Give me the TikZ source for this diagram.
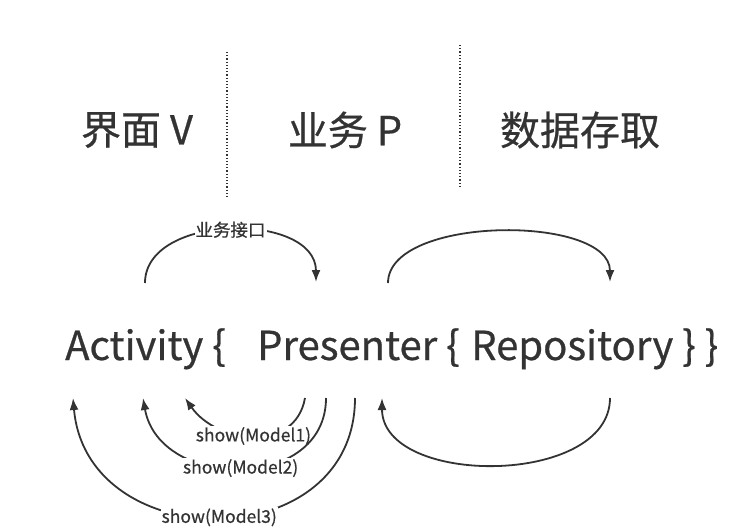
\documentclass[tikz,border=0pt]{standalone}
\usepackage{fontspec}
\setmainfont{Noto Sans CJK SC}
\newfontfamily\mfont{Noto Sans CJK SC}[RawFeature={embolden=0.6}]
\usetikzlibrary{arrows.meta}
\definecolor{ink}{HTML}{333333}
\tikzset{
  title/.style={font=\mfont\fontsize{40}{44}\selectfont, text=ink, inner sep=0pt},
  code/.style={font=\mfont\fontsize{40}{44}\selectfont, text=ink, inner sep=0pt, anchor=base west},
  sep/.style={ink, dotted, line width=1.2pt},
  arc/.style={ink, line width=1.8pt, -{Latex[length=12pt,width=9pt]}},
  lbl/.style={font=\mfont\fontsize{17.5}{20}\selectfont, text=ink, fill=white, inner sep=1pt}
}
\begin{document}
\begin{tikzpicture}[x=1pt,y=-1pt]
\useasboundingbox (0,0) rectangle (740,530);
\node[title] (tv) at (137,130) {界面 V};
\node[title] (tp) at (345,130) {业务 P};
\node[title] (td) at (580,130) {数据存取};
\coordinate (s1a) at (227,52); \coordinate (s1b) at (227,197);
\coordinate (s2a) at (460,45); \coordinate (s2b) at (460,188);
\draw[sep] (s1a) -- (s1b);
\draw[sep] (s2a) -- (s2b);
\node[code] (act) at (65,360) {Activity \{};
\node[code] (pre) at (257,360) {Presenter \{};
\node[code] (rep) at (471,360) {Repository \} \}};
% top arrows
\coordinate (a1) at (145,283); \coordinate (a2) at (316,282);
\draw[arc] (a1) to[out=90,in=90,looseness=1.05] node[lbl,pos=0.5] (l0) {业务接口} (a2);
\coordinate (b1) at (388,283); \coordinate (b2) at (610,282);
\draw[arc] (b1) to[out=90,in=90,looseness=0.78] (b2);
% bottom right
\coordinate (c1) at (610,398); \coordinate (c2) at (382,398);
\draw[arc] (c1) to[out=-90,in=-90,looseness=1.0] (c2);
% show arrows
\coordinate (m1a) at (305,398); \coordinate (m1b) at (185,398);
\draw[arc] (m1a) to[out=-100,in=-55,looseness=1.2] node[lbl,pos=0.5] (l1) {show(Model1)} (m1b);
\coordinate (m2a) at (326,398); \coordinate (m2b) at (143,398);
\draw[arc] (m2a) to[out=-90,in=-80,looseness=1.32] node[lbl,pos=0.5] (l2) {show(Model2)} (m2b);
\coordinate (m3a) at (355,398); \coordinate (m3b) at (73,398);
\draw[arc] (m3a) to[out=-90,in=-85,looseness=1.45] node[lbl,pos=0.5] (l3) {show(Model3)} (m3b);
\end{tikzpicture}
\end{document}
